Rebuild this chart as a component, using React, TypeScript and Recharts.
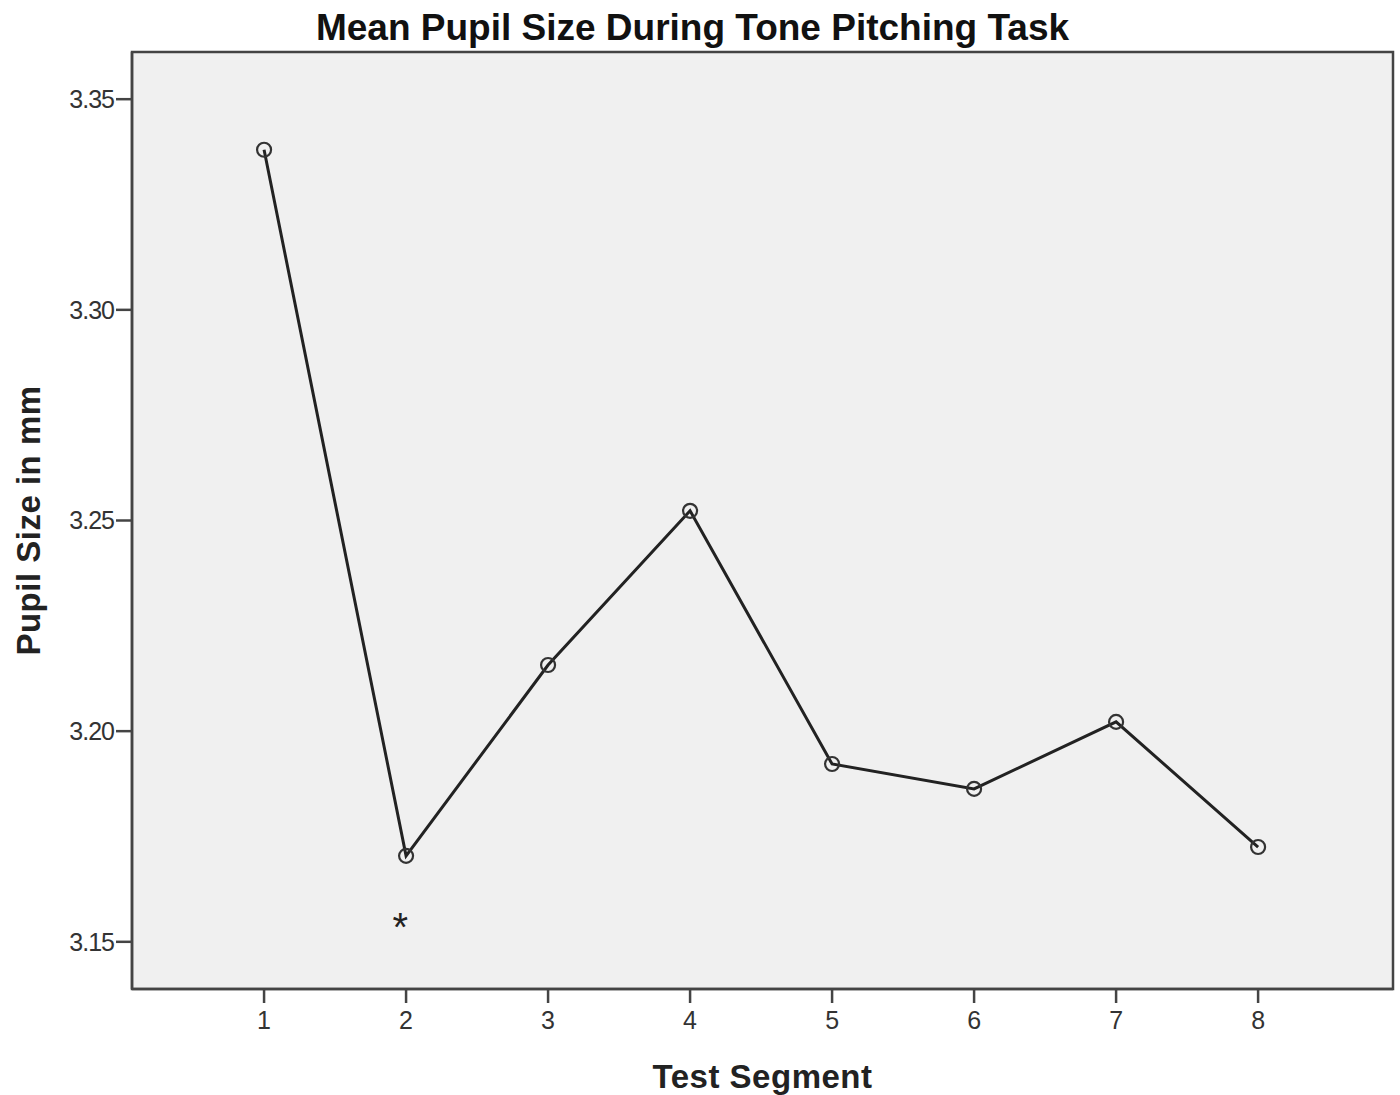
import {
  LineChart,
  Line,
  XAxis,
  YAxis,
  ReferenceArea,
  ReferenceDot,
} from "recharts";

// Test segments and mean pupil size (mm)
const segments = [1, 2, 3, 4, 5, 6, 7, 8];
const pupilSize = [3.338, 3.1704, 3.2157, 3.2523, 3.1922, 3.1863, 3.2022, 3.1725];
const yTicks = [3.15, 3.2, 3.25, 3.3, 3.35];
const xDomain = [0.07, 8.95];
const yDomain = [3.1388, 3.3612];
// significance marker under segment 2
const markerSegment = 1.96;
const markerValue = 3.1552;

const data = segments.map((s, i) => ({ segment: s, size: pupilSize[i] }));

const FONT = "'Liberation Sans', Arial, sans-serif";
const AXIS = "#444";

function YTitle(props: any) {
  const vb = props.viewBox || { x: 0, y: 52, width: 132, height: 937 };
  const cx = 28;
  const cy = vb.y + vb.height / 2;
  return (
    <text
      x={cx}
      y={cy}
      transform={`rotate(-90 ${cx} ${cy})`}
      textAnchor="middle"
      dominantBaseline="central"
      fontFamily={FONT}
      fontWeight="bold"
      fontSize={33}
      letterSpacing={0.5}
      fill="#222"
    >
      Pupil Size in mm
    </text>
  );
}

function Asterisk(props: any) {
  return (
    <text
      x={props.cx}
      y={props.cy + 21}
      textAnchor="middle"
      fontFamily={FONT}
      fontSize={40}
      fill="#222"
    >
      *
    </text>
  );
}

export default function App() {
  return (
    <div style={{ position: "absolute", left: 0, top: 0, width: 1400, height: 1095, background: "white" }}>
      {/* Title */}
      <div
        style={{
          position: "absolute",
          left: 0,
          top: 6,
          width: 1385,
          textAlign: "center",
          fontFamily: FONT,
          fontWeight: "bold",
          fontSize: 37,
          lineHeight: "44px",
          color: "#111",
        }}
      >
        Mean Pupil Size During Tone Pitching Task
      </div>

      <LineChart
        width={1400}
        height={1095}
        data={data}
        margin={{ top: 52, right: 7, bottom: 0, left: 0 }}
      >
        <ReferenceArea
          x1={xDomain[0]}
          x2={xDomain[1]}
          y1={yDomain[0]}
          y2={yDomain[1]}
          fill="#F0F0F0"
          fillOpacity={1}
          stroke={AXIS}
          strokeWidth={2.5}
        />
        <XAxis
          dataKey="segment"
          type="number"
          domain={xDomain}
          ticks={segments}
          allowDataOverflow
          height={106}
          tickSize={14}
          tickMargin={8}
          axisLine={{ stroke: AXIS, strokeWidth: 2.5 }}
          tickLine={{ stroke: AXIS, strokeWidth: 2.5 }}
          tick={{ fontSize: 25, fill: "#333", fontFamily: FONT }}
          label={{
            value: "Test Segment",
            position: "insideBottom",
            offset: 7,
            fontSize: 33,
            letterSpacing: 0.5,
            fontWeight: "bold",
            fill: "#222",
            fontFamily: FONT,
          }}
        />
        <YAxis
          type="number"
          domain={yDomain}
          ticks={yTicks}
          allowDataOverflow
          width={132}
          tickSize={16}
          tickMargin={2}
          tickFormatter={(v: number) => v.toFixed(2)}
          axisLine={{ stroke: AXIS, strokeWidth: 2.5 }}
          tickLine={{ stroke: AXIS, strokeWidth: 2.5 }}
          tick={{ fontSize: 25, fill: "#333", fontFamily: FONT, letterSpacing: -1 }}
          label={<YTitle />}
        />
        <Line
          type="linear"
          dataKey="size"
          stroke="#222"
          strokeWidth={3}
          dot={{ r: 7, stroke: "#333", strokeWidth: 2.2, fill: "none" }}
          activeDot={false}
          isAnimationActive={false}
        />
        <ReferenceDot
          x={markerSegment}
          y={markerValue}
          r={0}
          shape={<Asterisk />}
        />
      </LineChart>
    </div>
  );
}
